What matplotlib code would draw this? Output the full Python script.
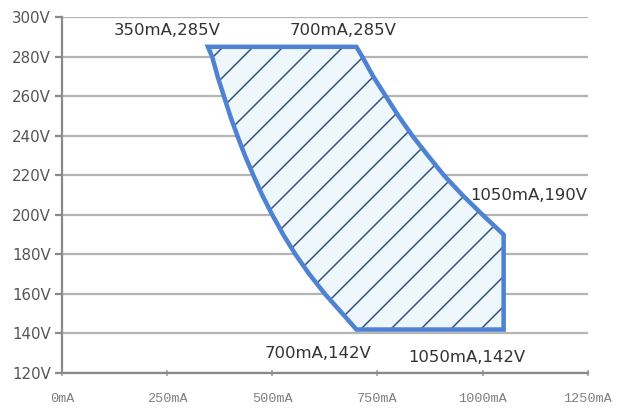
import matplotlib
matplotlib.use("Agg")
import matplotlib.pyplot as plt
from matplotlib.patches import Polygon

# Data (mA, V)
left_edge_I = [347, 357, 370, 385, 400, 417, 435, 455, 476, 500, 526, 555, 588, 625, 667, 700]
left_edge_V = [285, 280, 270, 260, 250, 240, 230, 220, 210, 200, 190, 180, 170, 160, 150, 142]
right_edge_I = [700, 714, 740, 770, 800, 833, 870, 908, 952, 1000, 1050]
right_edge_V = [285, 280, 270, 260, 250, 240, 230, 220, 210, 200, 190]
corner_I = [1050, 700]
corner_V = [142, 142]

labels = ["350mA,285V", "700mA,285V", "1050mA,190V", "700mA,142V", "1050mA,142V"]
label_I = [350, 700, 1050, 700, 1050]
label_V = [285, 285, 190, 142, 142]

xticks = [0, 250, 500, 750, 1000, 1250]
xticklabels = ["0mA", "250mA", "500mA", "750mA", "1000mA", "1250mA"]
yticks = [120, 140, 160, 180, 200, 220, 240, 260, 280, 300]
yticklabels = [f"{v}V" for v in yticks]

DPI = 180
PX = 72 / DPI
plt.rcParams["hatch.linewidth"] = 0.6
fig = plt.figure(figsize=(620 / DPI, 409 / DPI), dpi=DPI)
ax = fig.add_axes([0.1, 0.088, 0.848, 0.870])

xs = right_edge_I + corner_I + left_edge_I[::-1]
ys = right_edge_V + corner_V + left_edge_V[::-1]
pts = list(zip(xs, ys))

fill = Polygon(pts, closed=True, facecolor="#eef8fc", edgecolor="#34507c",
               hatch="//", linewidth=0, zorder=3)
ax.add_patch(fill)
outline = Polygon(pts, closed=True, facecolor="none", edgecolor="#4f82d2",
                  linewidth=1.8, joinstyle="miter", zorder=4)
ax.add_patch(outline)

ax.set_xlim(0, 1250)
ax.set_ylim(120, 300)
ax.set_yticks(yticks)
ax.set_yticklabels(yticklabels, fontsize=6.0, color="#555555", family="DejaVu Sans")
ax.set_xticks(xticks)
ax.set_xticklabels(xticklabels, fontsize=5.4, color="#808080", family="Liberation Mono")

ax.grid(axis="y", color="#b4b4b4", linewidth=0.9, zorder=1)
ax.set_axisbelow(True)
for s in ["top", "right"]:
    ax.spines[s].set_visible(False)
for s in ["left", "bottom"]:
    ax.spines[s].set_color("#8a8a8a")
    ax.spines[s].set_linewidth(0.9)
ax.tick_params(axis="y", direction="out", length=7 * PX, width=0.9, color="#8a8a8a", pad=4 * PX)
ax.tick_params(axis="x", direction="inout", length=6 * PX, width=0.6, color="#9a9a9a", pad=17 * PX)

# label offsets in pixels (dx right, dy down)
pix = [(-42, -16), (-13, -16), (25, -39), (-38, 24), (-37, 28)]
for t, xi, vi, (dx, dy) in zip(labels, label_I, label_V, pix):
    ax.annotate(t, (xi, vi), xytext=(dx * PX, -dy * PX),
                textcoords="offset points", ha="center", va="center",
                fontsize=6.6, color="#333333", family="DejaVu Sans", zorder=5)

fig.savefig("out.png", dpi=DPI, facecolor="white")
